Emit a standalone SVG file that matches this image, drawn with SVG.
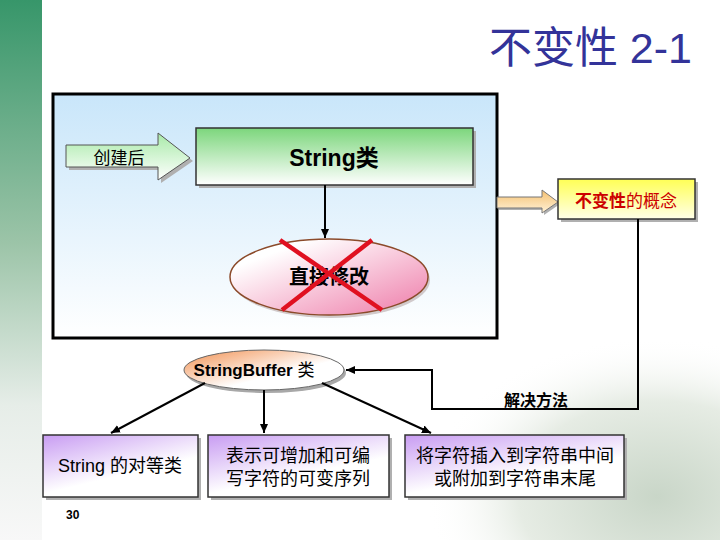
<svg xmlns="http://www.w3.org/2000/svg" width="720" height="540" viewBox="0 0 720 540">
<defs>
  <linearGradient id="strip" x1="0" y1="0" x2="0" y2="1">
    <stop offset="0" stop-color="#37966a"/>
    <stop offset="0.45" stop-color="#9cc4a8"/>
    <stop offset="0.75" stop-color="#e6ede8"/>
    <stop offset="1" stop-color="#f8f8f8"/>
  </linearGradient>
  <radialGradient id="bgtex" cx="0.85" cy="0.85" r="0.55">
    <stop offset="0" stop-color="#c9d6c8"/>
    <stop offset="0.6" stop-color="#e6ece4"/>
    <stop offset="1" stop-color="#ffffff" stop-opacity="0"/>
  </radialGradient>
  <linearGradient id="bigbox" x1="0" y1="0" x2="0" y2="1">
    <stop offset="0" stop-color="#c9e6fa"/>
    <stop offset="1" stop-color="#ffffff"/>
  </linearGradient>
  <linearGradient id="green" x1="0" y1="0" x2="0" y2="1">
    <stop offset="0" stop-color="#7cd67c"/>
    <stop offset="1" stop-color="#ffffff"/>
  </linearGradient>
  <linearGradient id="greenArrow" x1="0" y1="0" x2="0" y2="1">
    <stop offset="0" stop-color="#a8eaa8"/>
    <stop offset="1" stop-color="#ffffff"/>
  </linearGradient>
  <linearGradient id="pink" x1="0" y1="0" x2="1" y2="1">
    <stop offset="0.2" stop-color="#ffffff"/>
    <stop offset="1" stop-color="#ee7aa8"/>
  </linearGradient>
  <linearGradient id="orange" x1="0" y1="0" x2="1" y2="1">
    <stop offset="0" stop-color="#f29050"/>
    <stop offset="0.6" stop-color="#ffffff"/>
  </linearGradient>
  <linearGradient id="orangeArrow" x1="0" y1="0" x2="0" y2="1">
    <stop offset="0" stop-color="#f5c070"/>
    <stop offset="1" stop-color="#fff2d8"/>
  </linearGradient>
  <linearGradient id="yellow" x1="0" y1="0" x2="0" y2="1">
    <stop offset="0" stop-color="#ffff55"/>
    <stop offset="1" stop-color="#ffffe8"/>
  </linearGradient>
  <linearGradient id="purple" x1="0" y1="0" x2="0.6" y2="1">
    <stop offset="0" stop-color="#c89cf2"/>
    <stop offset="0.7" stop-color="#ffffff"/>
  </linearGradient>
  <marker id="ah" markerWidth="10" markerHeight="10" refX="9" refY="5" orient="auto" markerUnits="userSpaceOnUse">
    <path d="M0,1 L9,5 L0,9 Z" fill="#000"/>
  </marker>
  <style>
    .cn { font-family: "Liberation Sans", "Noto Sans CJK SC", sans-serif; }
    .shadow { fill: #b0b0b0; }
    .box { stroke: #333; stroke-width: 1.5; }
    .conn { stroke: #000; stroke-width: 2; fill: none; }
    .lbl { font-size: 18px; fill: #000; text-anchor: middle; }
  </style>
</defs>

<rect x="0" y="0" width="720" height="540" fill="#ffffff"/>
<rect x="300" y="250" width="420" height="290" fill="url(#bgtex)"/>
<rect x="0" y="0" width="42" height="540" fill="url(#strip)"/>

<text id="title" class="cn" x="692" y="63" font-size="43" fill="#333399" text-anchor="end">不变性 2-1</text>

<g id="container">
  <rect x="53" y="94" width="444" height="244" fill="url(#bigbox)" stroke="#000" stroke-width="3"/>
</g>

<g id="created-arrow">
  <path d="M69,148 L161,148 L161,136 L193,161 L161,183 L161,170 L69,170 Z" class="shadow"/>
  <path d="M66,145 L158,145 L158,133 L190,158 L158,180 L158,167 L66,167 Z" fill="url(#greenArrow)" stroke="#555" stroke-width="1"/>
  <text class="cn" x="119" y="164" font-size="17" text-anchor="middle">创建后</text>
</g>

<g id="string-class">
  <rect x="199" y="131" width="277" height="57" class="shadow"/>
  <rect x="196" y="128" width="277" height="57" fill="url(#green)" class="box"/>
  <text class="cn" x="334" y="166" font-size="23" font-weight="bold" text-anchor="middle">String类</text>
</g>

<g id="modify">
  <ellipse cx="331" cy="280" rx="99" ry="38" fill="#b8a8a8" opacity="0.6"/>
  <ellipse cx="329" cy="277" rx="99" ry="38" fill="url(#pink)" stroke="#8b4a2a" stroke-width="1.5"/>
  <text class="cn" x="329" y="284" font-size="20" font-weight="bold" text-anchor="middle">直接修改</text>
  <line x1="280" y1="240" x2="382" y2="310" stroke="#e01020" stroke-width="4.5"/>
  <line x1="372" y1="240" x2="282" y2="310" stroke="#e01020" stroke-width="4.5"/>
</g>

<g id="concept-arrow">
  <path d="M499,199 L544,199 L544,192 L560,204 L544,215 L544,210 L499,210 Z" class="shadow"/>
  <path d="M497,197 L542,197 L542,190 L558,202 L542,213 L542,208 L497,208 Z" fill="url(#orangeArrow)" stroke="#777" stroke-width="1"/>
</g>

<g id="concept">
  <rect x="561" y="182" width="137" height="40" class="shadow"/>
  <rect x="558" y="179" width="137" height="40" fill="url(#yellow)" class="box"/>
  <text class="cn" x="626" y="207" font-size="17" text-anchor="middle" fill="#cc0000"><tspan font-weight="bold">不变性</tspan>的概念</text>
</g>

<g id="stringbuffer">
  <ellipse cx="266" cy="373" rx="80" ry="20" fill="#a8a8a8"/>
  <ellipse cx="264" cy="370" rx="80" ry="20" fill="url(#orange)" stroke="#666" stroke-width="1"/>
  <text class="cn" x="254" y="376" font-size="17" font-weight="bold" text-anchor="middle">StringBuffer <tspan font-weight="normal">类</tspan></text>
</g>

<g id="box-equal">
  <rect x="46" y="438" width="155" height="62" class="shadow"/>
  <rect x="43" y="435" width="155" height="62" fill="url(#purple)" class="box"/>
  <text class="cn lbl" x="120" y="472">String 的对等类</text>
</g>
<g id="box-mutable">
  <rect x="211" y="438" width="181" height="62" class="shadow"/>
  <rect x="208" y="435" width="181" height="62" fill="url(#purple)" class="box"/>
  <text class="cn lbl" x="298" y="462">表示可增加和可编</text>
  <text class="cn lbl" x="298" y="485">写字符的可变序列</text>
</g>
<g id="box-insert">
  <rect x="408" y="438" width="219" height="62" class="shadow"/>
  <rect x="405" y="435" width="219" height="62" fill="url(#purple)" class="box"/>
  <text class="cn lbl" x="515" y="462">将字符插入到字符串中间</text>
  <text class="cn lbl" x="515" y="485">或附加到字符串末尾</text>
</g>

<g id="connectors">
  <line x1="325" y1="185" x2="325" y2="238" class="conn" stroke-width="1.5" marker-end="url(#ah)"/>
  <polyline points="638,219 638,409 432,409 432,370 346,370" class="conn" stroke-width="3" marker-end="url(#ah)"/>
  <line x1="205" y1="383" x2="111" y2="433" class="conn" marker-end="url(#ah)"/>
  <line x1="264" y1="390" x2="264" y2="433" class="conn" marker-end="url(#ah)"/>
  <line x1="322" y1="383" x2="431" y2="433" class="conn" marker-end="url(#ah)"/>
</g>

<text id="solution" class="cn" x="536" y="406" font-size="16" font-weight="bold" text-anchor="middle">解决方法</text>
<text id="page" class="cn" x="66" y="519" font-size="12" font-weight="bold">30</text>
</svg>
